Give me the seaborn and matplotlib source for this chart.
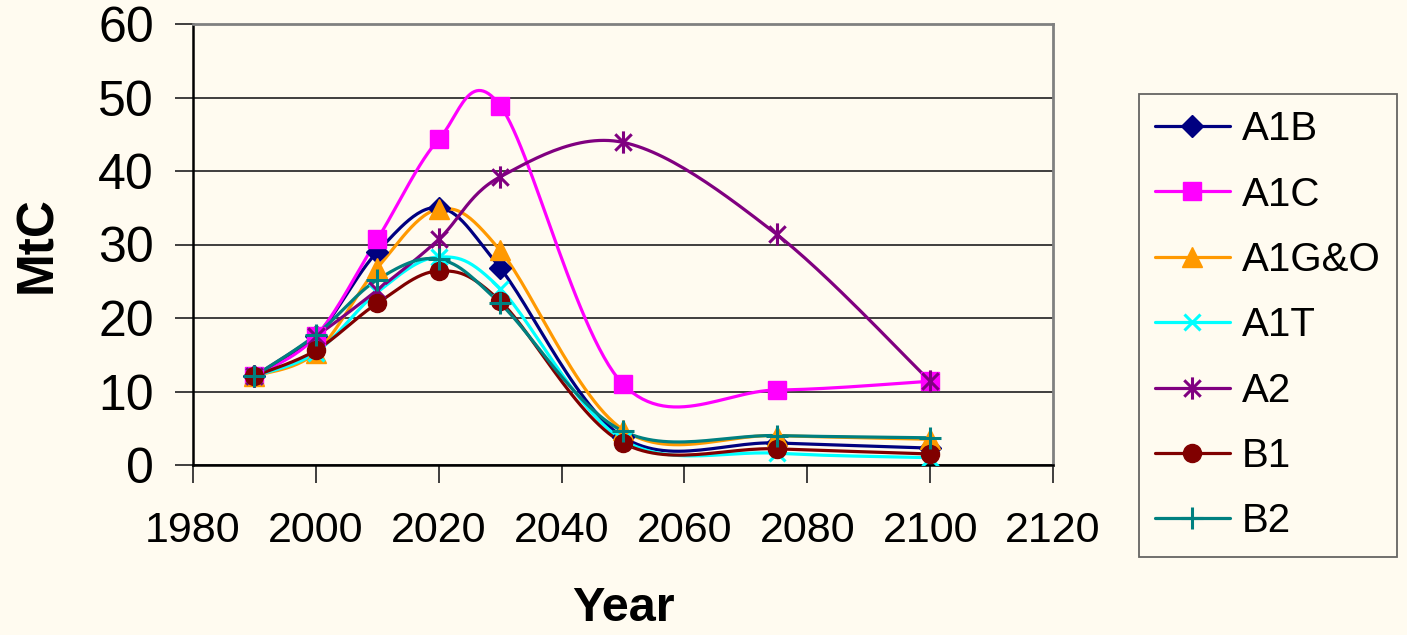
import numpy as np
import matplotlib
matplotlib.use("Agg")
import matplotlib.pyplot as plt
import seaborn as sns
from matplotlib.path import Path
from matplotlib.lines import Line2D

# data
years = [1990, 2000, 2010, 2020, 2030, 2050, 2075, 2100]
a1b = [12.1, 17.5, 29.0, 35.0, 26.8, 3.8, 3.0, 2.3]
a1c = [12.1, 17.5, 30.7, 44.3, 48.9, 11.0, 10.2, 11.4]
a1go = [12.1, 15.3, 26.8, 34.8, 29.2, 4.8, 4.0, 3.5]
a1t = [12.1, 15.3, 23.5, 28.3, 24.0, 3.4, 1.6, 1.0]
a2 = [12.1, 17.5, 23.8, 30.7, 39.2, 43.9, 31.4, 11.4]
b1 = [12.1, 15.6, 22.0, 26.4, 22.3, 3.0, 2.2, 1.5]
b2 = [12.1, 17.7, 25.2, 28.0, 22.0, 4.6, 4.0, 3.7]

names = ["A1B", "A1C", "A1G&O", "A1T", "A2", "B1", "B2"]
series = [a1b, a1c, a1go, a1t, a2, b1, b2]
colors = ["#000080", "#FF00FF", "#FF9900", "#00FFFF", "#800080", "#800000", "#008080"]

# Excel-like asterisk: X plus vertical bar
asterisk = Path([(-0.85, -0.85), (0.85, 0.85), (-0.85, 0.85), (0.85, -0.85), (0, -1.15), (0, 1.15)],
                [Path.MOVETO, Path.LINETO, Path.MOVETO, Path.LINETO, Path.MOVETO, Path.LINETO])
markers = ["D", "s", "^", "x", asterisk, "o", "+"]
msizes = [11, 13, 14, 12, 16, 13, 16]
mews = [1, 1, 1, 2.2, 2.2, 1, 2.2]

bg = "#FFFBF0"


def smooth(xs, ys, n=30):
    # Excel style smoothed line: cubic bezier through the points
    p = np.column_stack([xs, ys]).astype(float)
    p_ext = np.vstack([p[0], p, p[-1]])
    out = []
    t = np.linspace(0, 1, n)[:, None]
    for i in range(len(p) - 1):
        p0, p1, p2, p3 = p_ext[i], p_ext[i + 1], p_ext[i + 2], p_ext[i + 3]
        c1 = p1 + (p2 - p0) / 6
        c2 = p2 - (p3 - p1) / 6
        seg = (1 - t) ** 3 * p1 + 3 * (1 - t) ** 2 * t * c1 + 3 * (1 - t) * t ** 2 * c2 + t ** 3 * p2
        out.append(seg if i == 0 else seg[1:])
    c = np.vstack(out)
    return c[:, 0], c[:, 1]


sns.set_theme(style="white", rc={"text.color": "black", "axes.labelcolor": "black",
                                 "xtick.color": "black", "ytick.color": "black"})
plt.rcParams["font.family"] = ["Liberation Sans", "DejaVu Sans"]

fig = plt.figure(figsize=(14.07, 6.35), dpi=100, facecolor=bg)
ax = fig.add_axes([193 / 1407, 1 - 465 / 635, (1053 - 193) / 1407, (465 - 24) / 635])
ax.set_facecolor(bg)

handles = []
for name, ys, col, mk, ms, mew in zip(names, series, colors, markers, msizes, mews):
    sx, sy = smooth(years, ys)
    sns.lineplot(x=sx, y=sy, sort=False, estimator=None, color=col, linewidth=2.3, ax=ax)
    ax.plot(years, ys, linestyle="none", marker=mk, markersize=ms, color=col,
            markeredgecolor=col, markeredgewidth=mew, zorder=3)
    handles.append(Line2D([], [], color=col, linewidth=2.3, marker=mk, markersize=ms,
                          markeredgecolor=col, markeredgewidth=mew))

ax.set_xlim(1980, 2120)
ax.set_ylim(0, 60)
ax.set_xticks(range(1980, 2121, 20))
ax.set_yticks(range(0, 61, 10))
ax.grid(axis="y", color="#303030", linewidth=1.3)
ax.grid(axis="x", visible=False)
ax.set_axisbelow(True)

for s in ["left", "bottom"]:
    ax.spines[s].set_color("black")
    ax.spines[s].set_linewidth(1.8)
for s in ["top", "right"]:
    ax.spines[s].set_color("#808080")
    ax.spines[s].set_linewidth(2)

ax.tick_params(axis="both", direction="out", length=13, width=1.3, color="#303030",
               labelcolor="black", bottom=True, left=True)
ax.tick_params(axis="x", labelsize=31, pad=20)
ax.tick_params(axis="y", labelsize=36, pad=15)

ax.set_xlabel("Year", fontsize=35, fontweight="bold", labelpad=25)
ax.set_ylabel("MtC", fontsize=37, fontweight="bold", labelpad=26)

leg = fig.legend(handles, names, loc="upper left", bbox_to_anchor=(1139 / 1407, 1 - 94 / 635),
                 fontsize=29, frameon=True, fancybox=False, facecolor=bg, edgecolor="#404040",
                 handlelength=1.85, handletextpad=0.3, labelspacing=0.68, borderpad=0.4,
                 borderaxespad=0)
leg.get_frame().set_linewidth(1.3)

fig.savefig("out.png", dpi=100, facecolor=bg)
